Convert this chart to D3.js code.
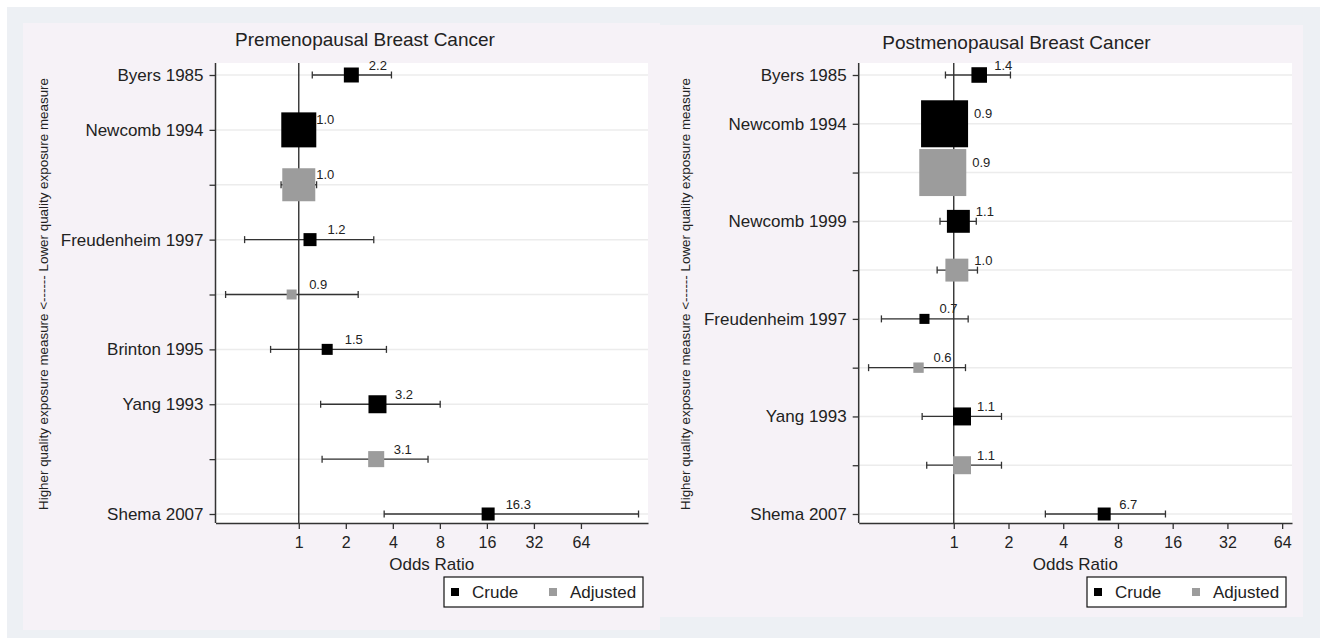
<!DOCTYPE html>
<html>
<head>
<meta charset="utf-8">
<script src="https://cdn.jsdelivr.net/npm/d3@7"></script>
<style>
  body { margin: 0; background: #fff; }
  svg text { font-family: "Liberation Sans", Arial, sans-serif; fill: #222; }
</style>
</head>
<body>
<div id="chart"></div>
<script>
// Premenopausal panel
var preLabels = ["Byers 1985", "Newcomb 1994", "", "Freudenheim 1997", "", "Brinton 1995", "Yang 1993", "", "Shema 2007"];
var preGroup = ["Crude", "Crude", "Adjusted", "Crude", "Adjusted", "Crude", "Crude", "Adjusted", "Crude"];
var preOR = [2.17, 1.0, 1.0, 1.18, 0.90, 1.52, 3.19, 3.13, 16.3];
var preLow = [1.22, 0.80, 0.77, 0.45, 0.34, 0.66, 1.38, 1.41, 3.52];
var preHigh = [3.92, 1.25, 1.30, 3.02, 2.40, 3.64, 8.04, 6.72, 149.6];
var preWeight = [6.1, 33.3, 29.6, 4.6, 2.7, 3.3, 8.8, 7.0, 4.6];

// Postmenopausal panel
var postLabels = ["Byers 1985", "Newcomb 1994", "", "Newcomb 1999", "", "Freudenheim 1997", "", "Yang 1993", "", "Shema 2007"];
var postGroup = ["Crude", "Crude", "Adjusted", "Crude", "Adjusted", "Crude", "Adjusted", "Crude", "Adjusted", "Crude"];
var postOR = [1.38, 0.89, 0.87, 1.06, 1.04, 0.69, 0.64, 1.11, 1.11, 6.72];
var postLow = [0.90, 0.74, 0.72, 0.84, 0.81, 0.40, 0.34, 0.67, 0.71, 3.19];
var postHigh = [2.05, 1.07, 1.04, 1.33, 1.35, 1.20, 1.16, 1.83, 1.83, 14.6];
var postWeight = [3.6, 32.8, 32.8, 7.8, 7.8, 1.5, 1.6, 4.8, 4.8, 2.5];

var xTicks = [1, 2, 4, 8, 16, 32, 64];
var groups = ["Crude", "Adjusted"];
var yTitle = "Higher quality exposure measure <------ Lower quality exposure measure";

var colors = { Crude: "#000", Adjusted: "#9c9c9c" };

var svg = d3.select("#chart").append("svg")
  .attr("width", 1320)
  .attr("height", 638);

// outer frame
svg.append("rect").attr("x", 7).attr("y", 7).attr("width", 1313).attr("height", 631).attr("fill", "#edf0f4");
svg.append("rect").attr("x", 23).attr("y", 23).attr("width", 637).attr("height", 607).attr("fill", "#f6f2f7");
svg.append("rect").attr("x", 660).attr("y", 25).attr("width", 643).attr("height", 592).attr("fill", "#f6f2f7");

function drawPanel(cfg) {
  var rows = cfg.labels.map(function(l, i) {
    return { i: i, label: l, group: cfg.group[i], or: cfg.or[i], lo: cfg.low[i], hi: cfg.high[i], w: cfg.weight[i] };
  });

  var x = d3.scaleLog().base(2).domain(cfg.domain).range([cfg.left, cfg.right]);
  var y = d3.scalePoint().domain(d3.range(rows.length)).range([75, 514]);
  var size = d3.scaleSqrt().domain([0, d3.max(cfg.weight)]).range([0, cfg.maxBox]);

  var top = 63, bottom = 523;
  var g = svg.append("g");

  g.append("rect")
    .attr("x", cfg.left).attr("y", top)
    .attr("width", cfg.right - cfg.left).attr("height", bottom - top)
    .attr("fill", "#fff");

  // gridlines
  g.selectAll(".grid").data(rows).enter().append("line")
    .attr("x1", cfg.left).attr("x2", cfg.right)
    .attr("y1", function(d) { return y(d.i); })
    .attr("y2", function(d) { return y(d.i); })
    .attr("stroke", "#ececec").attr("stroke-width", 1.5);

  // title
  g.append("text")
    .attr("x", cfg.titleX).attr("y", cfg.titleY)
    .attr("text-anchor", "middle")
    .style("font-size", "19px")
    .text(cfg.title);

  // y axis
  var leftAxis = d3.axisLeft(y).tickSize(6).tickSizeOuter(0)
    .tickFormat(function(i) { return cfg.labels[i]; });
  var ya = g.append("g").attr("transform", "translate(" + cfg.left + ",0)").call(leftAxis);
  ya.select(".domain").remove();
  ya.selectAll(".tick line").attr("stroke", "#333").attr("stroke-width", 1.3);
  ya.selectAll(".tick text").attr("x", -12).style("font-size", "17px").style("font-family", null).attr("fill", "#2a2a2a");
  g.append("line").attr("x1", cfg.left).attr("x2", cfg.left).attr("y1", top).attr("y2", bottom)
    .attr("stroke", "#333").attr("stroke-width", 1.5);

  // x axis
  var bottomAxis = d3.axisBottom(x).tickValues(xTicks).tickFormat(d3.format("d")).tickSize(6).tickSizeOuter(0);
  var xa = g.append("g").attr("transform", "translate(0," + bottom + ")").call(bottomAxis);
  xa.select(".domain").attr("stroke", "#333").attr("stroke-width", 1.5);
  xa.selectAll(".tick line").attr("stroke", "#333").attr("stroke-width", 1.3);
  xa.selectAll(".tick text").attr("y", 14).style("font-size", "16px").style("font-family", null).attr("fill", "#2a2a2a");

  g.append("text")
    .attr("x", (cfg.left + cfg.right) / 2).attr("y", 570)
    .attr("text-anchor", "middle")
    .style("font-size", "17px")
    .text("Odds Ratio");

  g.append("text")
    .attr("transform", "translate(" + cfg.yTitleX + ",294) rotate(-90)")
    .attr("text-anchor", "middle")
    .attr("dy", "0.35em")
    .style("font-size", "13.4px")
    .text(yTitle);

  // reference line at OR = 1
  g.append("line")
    .attr("x1", x(1)).attr("x2", x(1)).attr("y1", top).attr("y2", bottom)
    .attr("stroke", "#222").attr("stroke-width", 1.3);

  // confidence intervals
  var ci = g.selectAll(".ci").data(rows).enter().append("g");
  ci.append("line")
    .attr("x1", function(d) { return x(d.lo); })
    .attr("x2", function(d) { return x(d.hi); })
    .attr("y1", function(d) { return y(d.i); })
    .attr("y2", function(d) { return y(d.i); });
  ci.append("line")
    .attr("x1", function(d) { return x(d.lo); })
    .attr("x2", function(d) { return x(d.lo); })
    .attr("y1", function(d) { return y(d.i) - 3.5; })
    .attr("y2", function(d) { return y(d.i) + 3.5; });
  ci.append("line")
    .attr("x1", function(d) { return x(d.hi); })
    .attr("x2", function(d) { return x(d.hi); })
    .attr("y1", function(d) { return y(d.i) - 3.5; })
    .attr("y2", function(d) { return y(d.i) + 3.5; });
  ci.selectAll("line").attr("stroke", "#333").attr("stroke-width", 1.3);

  // weighted boxes
  g.selectAll(".box").data(rows).enter().append("rect")
    .attr("x", function(d) { return x(d.or) - size(d.w) / 2; })
    .attr("y", function(d) { return y(d.i) - size(d.w) / 2; })
    .attr("width", function(d) { return size(d.w); })
    .attr("height", function(d) { return size(d.w); })
    .attr("fill", function(d) { return colors[d.group]; });

  // value labels
  g.selectAll(".val").data(rows).enter().append("text")
    .attr("x", function(d) { return x(d.or) + cfg.labelOffset(size(d.w) / 2); })
    .attr("y", function(d) { return y(d.i) - 5.5; })
    .style("font-size", "13px")
    .text(function(d) { return d.or.toFixed(1); });

  // legend
  var lg = g.append("g").attr("transform", "translate(" + cfg.legendX + ",577)");
  lg.append("rect").attr("width", 199).attr("height", 30)
    .attr("fill", "#fff").attr("stroke", "#111").attr("stroke-width", 1.2);
  var item = lg.selectAll(".item").data(groups).enter().append("g")
    .attr("transform", function(d, i) { return "translate(" + (i === 0 ? 11 : 109) + ",15)"; });
  item.append("rect").attr("x", -4).attr("y", -4).attr("width", 8).attr("height", 8)
    .attr("fill", function(d) { return colors[d]; });
  item.append("text").attr("x", 17).attr("dy", "0.35em")
    .style("font-size", "17px")
    .text(function(d) { return d; });
}

drawPanel({
  title: "Premenopausal Breast Cancer", titleX: 365, titleY: 45.5,
  labels: preLabels, group: preGroup, or: preOR, low: preLow, high: preHigh, weight: preWeight,
  domain: [0.293, 172], left: 215.5, right: 648, maxBox: 35,
  yTitleX: 43, legendX: 444,
  labelOffset: function() { return 17.5; }
});

drawPanel({
  title: "Postmenopausal Breast Cancer", titleX: 1016.5, titleY: 49,
  labels: postLabels, group: postGroup, or: postOR, low: postLow, high: postHigh, weight: postWeight,
  domain: [0.30, 72.5], left: 858.7, right: 1292, maxBox: 47,
  yTitleX: 685, legendX: 1087,
  labelOffset: function(h) { return Math.max(15, h + 6); }
});
</script>
</body>
</html>
